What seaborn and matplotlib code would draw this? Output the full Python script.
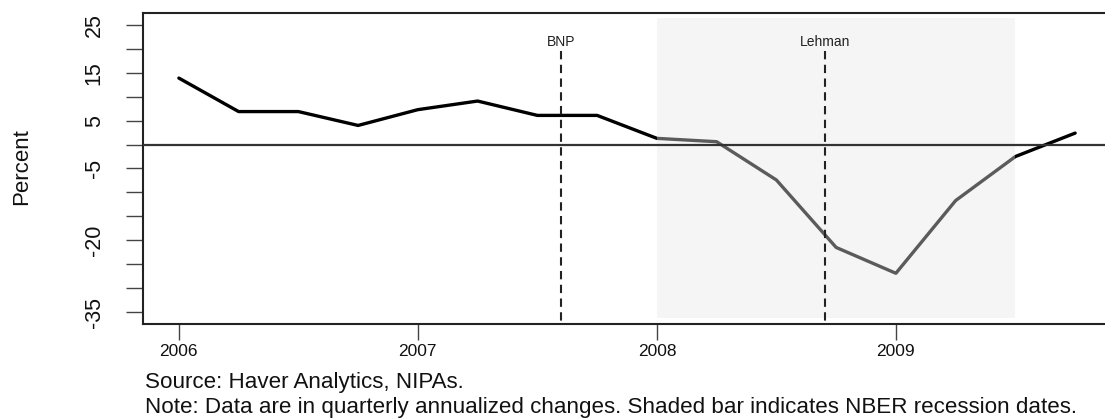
import matplotlib
matplotlib.use("Agg")
import matplotlib.pyplot as plt
import seaborn as sns
import pandas as pd

# ---- data ----
quarters = [2006.00, 2006.25, 2006.50, 2006.75,
            2007.00, 2007.25, 2007.50, 2007.75,
            2008.00, 2008.25, 2008.50, 2008.75,
            2009.00, 2009.25, 2009.50, 2009.75]
pct_change = [13.9, 6.9, 6.9, 4.0,
              7.3, 9.1, 6.1, 6.1,
              1.3, 0.6, -7.4, -21.5,
              -26.9, -11.7, -2.5, 2.4]
year_ticks = [2006, 2007, 2008, 2009]
year_labels = ["2006", "2007", "2008", "2009"]
y_ticks = [25, 20, 15, 10, 5, 0, -5, -10, -15, -20, -25, -30, -35]
y_labels = ["25", "", "15", "", "5", "", "-5", "", "", "-20", "", "", "-35"]
recession = (2008.0, 2009.5)
events = ["BNP", "Lehman"]
event_dates = [2007.6, 2008.705]
event_top = 19.5

df = pd.DataFrame({"quarter": quarters, "pct": pct_change})

sns.set_theme(style="white")
plt.rcParams["font.family"] = ["Liberation Sans", "DejaVu Sans"]

W, H = 1105, 419
fig = plt.figure(figsize=(W / 100, H / 100), dpi=100)
ax = fig.add_axes([143 / W, (H - 323.5) / H, 968 / W, 310 / H])
ax.set_facecolor("white")

sns.lineplot(data=df, x="quarter", y="pct", ax=ax, color="black",
             linewidth=2.4, zorder=2)

# shaded recession bar (semi-transparent, drawn over the line)
ax.axvspan(recession[0], recession[1], ymin=0.017, ymax=0.987,
           facecolor=(0.9, 0.9, 0.9), alpha=0.4, edgecolor="none", zorder=3)

ax.axhline(0, color="#333333", linewidth=1.6, zorder=4)

for name, d in zip(events, event_dates):
    ax.plot([d, d], [event_top, -37.4], color="#222222", linewidth=1.5,
            linestyle=(0, (4, 2.6)), zorder=4)
    ax.text(d, event_top + 0.4, name, ha="center", va="bottom",
            fontsize=10, color="#222222", zorder=5)

ax.set_xlim(2005.85, 2009.9)
ax.set_ylim(-37.4, 27.4)

ax.set_xticks(year_ticks)
ax.set_xticklabels(year_labels, fontsize=12.5, color="#111111")
ax.set_yticks(y_ticks)
ax.set_yticklabels(y_labels, fontsize=15.5, rotation=90, va="center",
                   color="#111111")
ax.tick_params(axis="x", direction="out", length=11.5, width=1.0,
               color="#444444", pad=3.5, bottom=True)
ax.tick_params(axis="y", direction="out", length=12.5, width=1.0,
               color="#444444", pad=15, left=True)
ax.set_xlabel("")
ax.set_ylabel("")

for s in ax.spines.values():
    s.set_visible(True)
    s.set_color("#222222")
    s.set_linewidth(1.5)

fig.text(21.5 / W, 1 - 167 / H, "Percent", rotation=90, ha="center",
         va="center", fontsize=16, color="#111111")
fig.text(145 / W, 1 - 388 / H, "Source: Haver Analytics, NIPAs.",
         ha="left", va="baseline", fontsize=16.1, color="#111111")
fig.text(145 / W, 1 - 413 / H,
         "Note: Data are in quarterly annualized changes. Shaded bar indicates NBER recession dates.",
         ha="left", va="baseline", fontsize=16.1, color="#111111")

fig.savefig("out.png", dpi=100)
